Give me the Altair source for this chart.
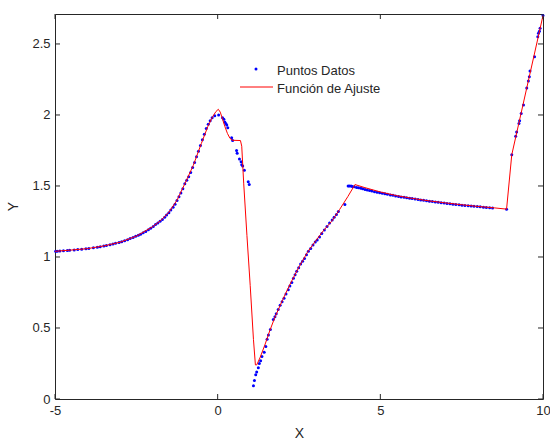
import altair as alt
import pandas as pd

# ---- data ----
pts_x = [-4.98, -4.93, -4.85, -4.74, -4.62, -4.55, -4.41, -4.30, -4.18, -4.05,
         -3.96, -3.82, -3.70, -3.61, -3.50, -3.42, -3.31, -3.22, -3.14, -3.03,
         -2.95, -2.86, -2.77, -2.69, -2.60, -2.52, -2.44, -2.37, -2.29, -2.21,
         -2.13, -2.06, -1.98, -1.91, -1.84, -1.77, -1.70, -1.63, -1.57, -1.50,
         -1.44, -1.37, -1.31, -1.25, -1.19, -1.13, -1.07, -1.01, -0.95, -0.89,
         -0.83, -0.77, -0.71, -0.65, -0.59, -0.53, -0.47, -0.41, -0.35, -0.29,
         -0.23, -0.17, -0.09, 0.03,
         0.15, 0.19, 0.22, 0.25, 0.28, 0.31, 0.43, 0.46, 0.58, 0.60,
         0.67, 0.72, 0.74, 0.77, 0.82, 0.94, 0.97,
         1.10, 1.13, 1.17, 1.20, 1.25, 1.28, 1.32, 1.36, 1.43, 1.48,
         1.52, 1.56, 1.62, 1.71, 1.76, 1.80, 1.86, 1.92, 1.98, 2.04,
         2.10, 2.17, 2.22, 2.28, 2.33, 2.38, 2.43, 2.49, 2.55, 2.61,
         2.67, 2.73, 2.79, 2.86, 2.93, 3.00, 3.06, 3.13, 3.20, 3.28,
         3.36, 3.44, 3.52, 3.58, 3.65, 3.71, 3.91, 4.01,
         4.05, 4.10, 4.14, 4.20, 4.27, 4.33, 4.40, 4.46, 4.53, 4.60,
         4.67, 4.74, 4.82, 4.90, 4.98, 5.06, 5.14, 5.22, 5.31, 5.39,
         5.47, 5.56, 5.64, 5.73, 5.81, 5.90, 5.98, 6.07, 6.16, 6.24,
         6.33, 6.42, 6.51, 6.60, 6.69, 6.78, 6.87, 6.96, 7.05, 7.14,
         7.23, 7.32, 7.42, 7.51, 7.60, 7.70, 7.79, 7.88, 7.98, 8.07,
         8.17, 8.26, 8.36, 8.45, 8.88,
         9.04, 9.16, 9.19, 9.26, 9.28, 9.33, 9.40, 9.50, 9.55, 9.58,
         9.60, 9.74, 9.84, 9.86, 9.89, 9.91, 10.0]
pts_y = [1.040, 1.041, 1.042, 1.044, 1.046, 1.047, 1.050, 1.052, 1.055, 1.058,
         1.060, 1.065, 1.069, 1.072, 1.077, 1.081, 1.086, 1.091, 1.096, 1.102,
         1.108, 1.115, 1.122, 1.130, 1.138, 1.146, 1.153, 1.160, 1.170, 1.180,
         1.192, 1.203, 1.215, 1.228, 1.240, 1.252, 1.264, 1.280, 1.295, 1.312,
         1.330, 1.350, 1.372, 1.398, 1.424, 1.450, 1.480, 1.515, 1.540, 1.565,
         1.595, 1.630, 1.665, 1.705, 1.745, 1.785, 1.825, 1.865, 1.905, 1.935,
         1.960, 1.980, 1.995, 2.000,
         1.98, 1.97, 1.95, 1.94, 1.93, 1.91, 1.84, 1.82, 1.75, 1.73,
         1.69, 1.67, 1.65, 1.64, 1.61, 1.53, 1.51,
         0.094, 0.13, 0.17, 0.19, 0.22, 0.25, 0.27, 0.30, 0.33, 0.37,
         0.42, 0.45, 0.49, 0.56, 0.58, 0.60, 0.63, 0.66, 0.685, 0.71,
         0.74, 0.77, 0.795, 0.82, 0.85, 0.875, 0.90, 0.925, 0.95, 0.97,
         0.99, 1.015, 1.04, 1.06, 1.085, 1.105, 1.12, 1.14, 1.165, 1.19,
         1.215, 1.24, 1.26, 1.28, 1.30, 1.32, 1.37, 1.50,
         1.500, 1.499, 1.497, 1.494, 1.490, 1.487, 1.484, 1.480, 1.476, 1.472,
         1.468, 1.464, 1.460, 1.456, 1.452, 1.449, 1.445, 1.441, 1.437, 1.434,
         1.430, 1.426, 1.423, 1.420, 1.417, 1.414, 1.411, 1.408, 1.405, 1.402,
         1.399, 1.396, 1.393, 1.390, 1.388, 1.385, 1.382, 1.380, 1.377, 1.375,
         1.372, 1.370, 1.368, 1.365, 1.363, 1.361, 1.359, 1.357, 1.355, 1.353,
         1.351, 1.349, 1.347, 1.345, 1.337,
         1.72, 1.85, 1.88, 1.94, 1.96, 2.01, 2.07, 2.19, 2.24, 2.27,
         2.31, 2.41, 2.55, 2.575, 2.59, 2.61, 2.70]

fit_x = [-5, -4.5, -4, -3.5, -3, -2.5, -2, -1.75, -1.5, -1.25, -1, -0.75, -0.5,
         -0.3, -0.15, -0.05, 0.02, 0.08, 0.15, 0.22, 0.30, 0.38, 0.45, 0.70,
         0.74, 0.80, 0.90, 1.00, 1.10, 1.16, 1.20, 1.30, 1.45, 1.60, 1.75,
         2.00, 2.25, 2.50, 2.75, 3.00, 3.25, 3.50, 3.75, 4.00, 4.22,
         4.50, 5.00, 5.50, 6.00, 6.50, 7.00, 7.50, 8.00, 8.50, 8.88,
         9.04, 10.00]
fit_y = [1.040, 1.049, 1.059, 1.078, 1.104, 1.147, 1.213, 1.257, 1.315, 1.400,
         1.520, 1.645, 1.800, 1.920, 1.990, 2.025, 2.040, 2.020, 1.970, 1.920,
         1.870, 1.835, 1.822, 1.820, 1.780, 1.520, 1.150, 0.800, 0.420, 0.240,
         0.240, 0.290, 0.380, 0.480, 0.570, 0.700, 0.820, 0.930, 1.030, 1.110,
         1.185, 1.250, 1.335, 1.425, 1.510,
         1.490, 1.458, 1.432, 1.412, 1.395, 1.381, 1.368, 1.356, 1.346, 1.337,
         1.720, 2.700]

x_ticks = [-5, 0, 5, 10]
y_ticks = [0, 0.5, 1, 1.5, 2, 2.5]
legend_labels = ["Puntos Datos", "Función de Ajuste"]

# ---- styling ----
W, H = 488, 385
FONT = "Liberation Sans"
INK = "#262626"

pts = pd.DataFrame({"x": pts_x, "y": pts_y})
fit = pd.DataFrame({"x": fit_x, "y": fit_y})
xt = pd.DataFrame({"x": x_ticks})
yt = pd.DataFrame({"y": y_ticks})
one = pd.DataFrame({"a": [0]})

xs = alt.Scale(domain=[-5, 10], nice=False, zero=False)
ys = alt.Scale(domain=[0, 2.711], nice=False, zero=False)

common = dict(grid=False, ticks=False, domain=False, labelFont=FONT,
              labelFontSize=13, labelColor=INK, titleFont=FONT,
              titleFontSize=14, titleFontWeight="normal", titleColor=INK,
              labelExpr="'' + datum.value", labelFlush=False,
              labelOverlap=False, labelBound=False)

xaxis = alt.Axis(values=x_ticks, title="X", labelPadding=5, titleX=244,
                 titleY=34, titleBaseline="middle", titleAlign="center", **common)
yaxis = alt.Axis(values=y_ticks, title="Y", labelPadding=5, titleX=-42,
                 titleY=192, titleBaseline="middle", titleAlign="center", **common)

points = alt.Chart(pts).mark_circle(size=9, color="#0000ff", opacity=1).encode(
    x=alt.X("x:Q", scale=xs, axis=xaxis),
    y=alt.Y("y:Q", scale=ys, axis=yaxis),
)
line = alt.Chart(fit).mark_line(color="#ff0000", strokeWidth=1).encode(
    x=alt.X("x:Q", scale=xs), y=alt.Y("y:Q", scale=ys))

tick_b = alt.Chart(xt).mark_rule(color=INK, strokeWidth=1).encode(
    x=alt.X("x:Q", scale=xs), y=alt.value(H), y2=alt.value(H - 5))
tick_t = alt.Chart(xt).mark_rule(color=INK, strokeWidth=1).encode(
    x=alt.X("x:Q", scale=xs), y=alt.value(0), y2=alt.value(5))
tick_l = alt.Chart(yt).mark_rule(color=INK, strokeWidth=1).encode(
    y=alt.Y("y:Q", scale=ys), x=alt.value(0), x2=alt.value(5))
tick_r = alt.Chart(yt).mark_rule(color=INK, strokeWidth=1).encode(
    y=alt.Y("y:Q", scale=ys), x=alt.value(W), x2=alt.value(W - 5))

leg_pt = alt.Chart(one).mark_circle(size=9, color="#0000ff", opacity=1).encode(
    x=alt.value(201), y=alt.value(55))
leg_ln = alt.Chart(one).mark_rule(color="#ff0000", strokeWidth=1).encode(
    x=alt.value(185), x2=alt.value(218), y=alt.value(73))
leg_t1 = alt.Chart(one).mark_text(align="left", baseline="alphabetic", font=FONT,
                                  fontSize=13, color=INK).encode(
    x=alt.value(222), y=alt.value(61), text=alt.value(legend_labels[0]))
leg_t2 = alt.Chart(one).mark_text(align="left", baseline="alphabetic", font=FONT,
                                  fontSize=13, color=INK).encode(
    x=alt.value(222), y=alt.value(79), text=alt.value(legend_labels[1]))

chart = alt.layer(points, line, tick_b, tick_t, tick_l, tick_r,
                  leg_pt, leg_ln, leg_t1, leg_t2).properties(
    width=W, height=H,
    autosize=alt.AutoSizeParams(type="none"),
    padding={"left": 55, "top": 14, "right": 7, "bottom": 42},
    background="white",
).configure_view(stroke=INK, strokeWidth=1)

chart.save("out.html", embed_options={"renderer": "svg", "actions": False})
